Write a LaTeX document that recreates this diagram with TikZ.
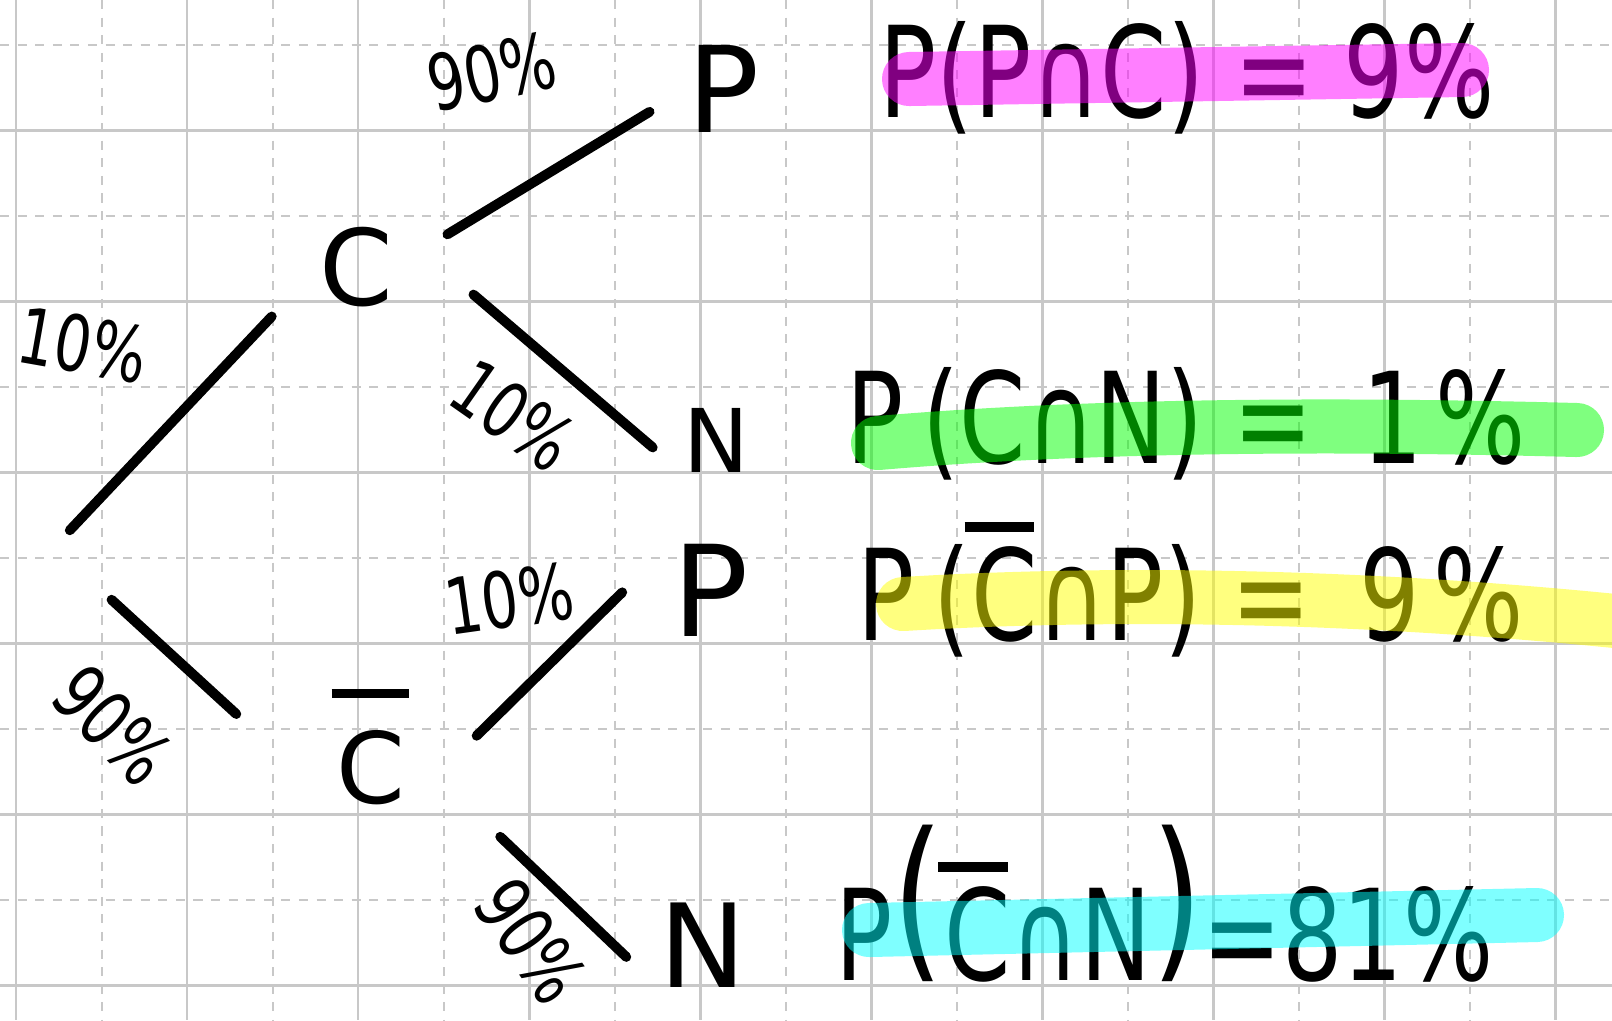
\documentclass[tikz,border=0pt]{standalone}
\usepackage{fontspec}
\setmainfont{DejaVu Sans}
\newfontfamily\hand[FakeStretch=0.75]{DejaVu Sans}
\usetikzlibrary{positioning, calc}
\definecolor{gridgray}{HTML}{C8C8C8}
\definecolor{hlmagenta}{RGB}{255,0,255}
\definecolor{hlgreen}{RGB}{0,255,0}
\definecolor{hlyellow}{RGB}{255,255,0}
\definecolor{hlcyan}{RGB}{0,255,255}
\newcommand{\cbar}[2]{\makebox[0pt][l]{\hspace{-0.05em}\raisebox{#1}{\rule{#2}{0.085em}}}C}
\newcommand{\bigpar}[1]{{\fontsize{50}{50}\selectfont\raisebox{0.12em}{#1}}}

\begin{document}
\begin{tikzpicture}[x=0.01cm, y=-0.01cm,
    gridline/.style={draw=gridgray, line width=0.85pt},
    gridhalf/.style={draw=gridgray, line width=0.7pt, dash pattern=on 2.6pt off 2.4pt},
    branch/.style={line width=2.8pt, line cap=round},
    leaf/.style={inner sep=0pt, font={\fontsize{#1}{#1}\selectfont}},
    pct/.style={inner sep=0pt, font={\hand\fontsize{22}{22}\selectfont}},
    eqn/.style={inner sep=0pt, anchor=base west, font={\hand\fontsize{36}{40}\selectfont}},
    marker/.style={line width=0.54cm, line cap=round, opacity=0.5}
]
\useasboundingbox (0,0) rectangle (1612,1020);
\fill[white] (0,0) rectangle (1612,1020);

% grid paper
\foreach \x in {102,273,...,1470} \draw[gridhalf] (\x,0) -- (\x,1020);
\foreach \y in {45,216,...,900} \draw[gridhalf] (0,\y) -- (1612,\y);
\foreach \x in {16,187,...,1555} \draw[gridline] (\x,0) -- (\x,1020);
\foreach \y in {130,301,...,985} \draw[gridline] (0,\y) -- (1612,\y);

% tree
\coordinate (root) at (54,547);
\node[leaf=30] (C) at (356,267) {C};
\node[leaf=28] (Cb) at (371,747) {\cbar{1.07em}{0.78em}};
\node[leaf=34] (P1) at (724,89) {P};
\node[leaf=25] (N1) at (716,440) {N};
\node[leaf=36] (P2) at (711,590) {P};
\node[leaf=33] (N2) at (703,945) {N};

% branches
\draw[branch, shorten <=0.23cm, shorten >=0.68cm] (root) -- (C.west);
\draw[branch, shorten <=0.78cm, shorten >=1.35cm] (root) -- (Cb.south west);
\draw[branch, shorten <=0.63cm, shorten >=0.44cm] (C.east) -- (P1.west);
\draw[branch, shorten <=1.05cm, shorten >=0.39cm] (C.north east) -- (N1.south west);
\draw[branch, shorten <=0.99cm, shorten >=0.70cm] (Cb.south east) -- (P2.north west);
\draw[branch, shorten <=1.30cm, shorten >=0.45cm] (Cb.east) -- (N2.south west);

% branch probabilities
\node[pct, rotate=-10] (pC) at (83,345) {10\%};
\node[pct, rotate=-45] (pCb) at (113,725) {90\%};
\node[pct, rotate=12] (pCP) at (492,72) {90\%};
\node[pct, rotate=-35] (pCN) at (513,415) {10\%};
\node[pct, rotate=8] (pCbP) at (509,599) {10\%};
\node[pct, rotate=-55] (pCbN) at (531,941) {90\%};

% results
\node[eqn] (E1) at (879,117) {P(P∩C) = 9\%};
\node[eqn] (E2) at (846,463) {P\hspace{0.15em}(C∩N) =\hspace{0.15em} 1\hspace{0.1em}\%};
\node[eqn] (E3) at (857,640) {P\hspace{0.15em}(\cbar{0.85em}{0.55em}∩P) =\hspace{0.15em} 9\hspace{0.1em}\%};
\node[eqn] (E4) at (835,980) {P\bigpar{(}\cbar{0.85em}{0.55em}∩N\bigpar{)}=81\%};

% highlighter
\draw[marker, hlmagenta] (909,79) -- (1462,70);
\draw[marker, hlgreen] (878,443) .. controls (1100,424) and (1350,424) .. (1577,430);
\draw[marker, hlyellow] (903,604) .. controls (1100,592) and (1350,594) .. (1625,622);
\draw[marker, hlcyan] (869,930) -- (1537,915);
\end{tikzpicture}
\end{document}
